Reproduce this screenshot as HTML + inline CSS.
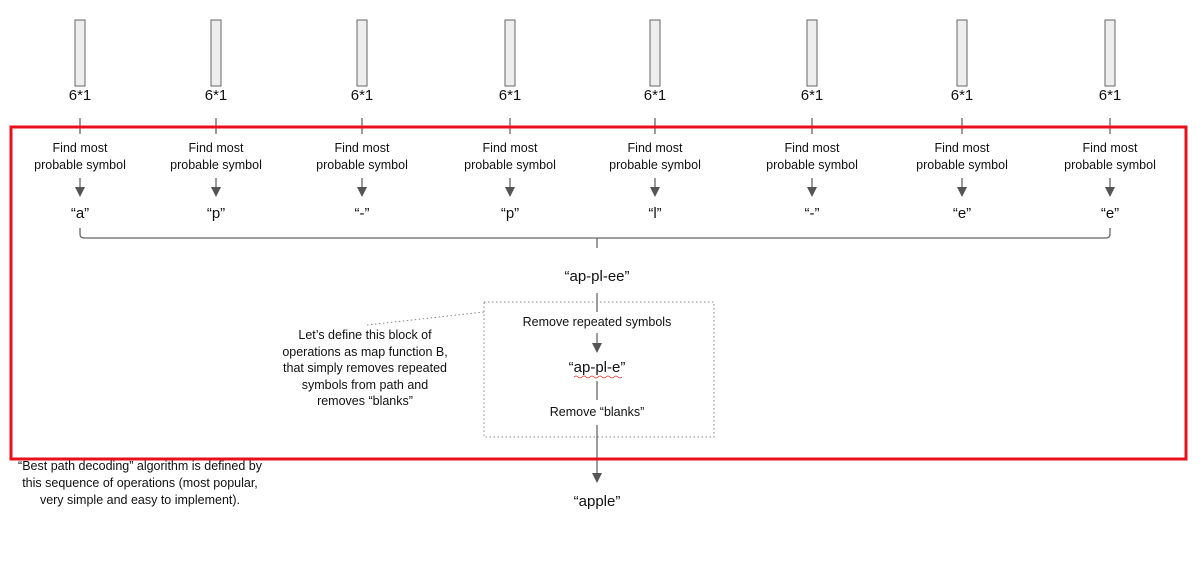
<!DOCTYPE html>
<html><head><style>
body{margin:0;width:1200px;height:579px;background:#fff;position:relative;overflow:hidden;font-family:"Liberation Sans",Arial,sans-serif;color:#111}
.t{position:absolute;transform:translateX(-50%);text-align:center;white-space:nowrap}
.s{font-size:12.5px;line-height:17px}
.m{font-size:15px}
</style></head><body>
<svg width="1200" height="579" style="position:absolute;left:0;top:0">
<g stroke="#666" fill="#eee" stroke-width="1">
<rect x="75" y="20" width="10" height="66"/><rect x="211" y="20" width="10" height="66"/><rect x="357" y="20" width="10" height="66"/><rect x="505" y="20" width="10" height="66"/><rect x="650" y="20" width="10" height="66"/><rect x="807" y="20" width="10" height="66"/><rect x="957" y="20" width="10" height="66"/><rect x="1105" y="20" width="10" height="66"/>
</g>
<g stroke="#666" stroke-width="1.3" fill="none">
<path d="M80,118V134M216,118V134M362,118V134M510,118V134M655,118V134M812,118V134M962,118V134M1110,118V134"/>
<path d="M80,178V188M216,178V188M362,178V188M510,178V188M655,178V188M812,178V188M962,178V188M1110,178V188"/>
<path d="M80,228V234Q80,238 84,238H1106Q1110,238 1110,234V228M597,238V248"/>
<path d="M597,293V312"/>
<path d="M597,333V344"/>
<path d="M597,381V400"/>
<path d="M597,425V474"/>
</g>
<g fill="#555">
<path d="M75,187h10l-5,10z"/><path d="M211,187h10l-5,10z"/><path d="M357,187h10l-5,10z"/><path d="M505,187h10l-5,10z"/><path d="M650,187h10l-5,10z"/><path d="M807,187h10l-5,10z"/><path d="M957,187h10l-5,10z"/><path d="M1105,187h10l-5,10z"/>
<path d="M592,343h10l-5,10z"/><path d="M592,473h10l-5,10z"/>
</g>
<rect x="484" y="302" width="230" height="135" fill="none" stroke="#888" stroke-dasharray="1.5,2.5"/>
<path d="M367,325L484,312" stroke="#888" stroke-dasharray="1.5,2.5"/>
<rect x="11" y="127" width="1175" height="332" fill="none" stroke="#e8101a" stroke-width="3"/>
<path d="M574,377q2,-2 4,0t4,0t4,0t4,0t4,0t4,0t4,0t4,0t4,0t4,0t4,0t4,0" stroke="#d33" fill="none" stroke-width="0.8"/>
</svg>
<div class="t m" style="left:80px;top:87px">6*1</div><div class="t m" style="left:216px;top:87px">6*1</div><div class="t m" style="left:362px;top:87px">6*1</div><div class="t m" style="left:510px;top:87px">6*1</div><div class="t m" style="left:655px;top:87px">6*1</div><div class="t m" style="left:812px;top:87px">6*1</div><div class="t m" style="left:962px;top:87px">6*1</div><div class="t m" style="left:1110px;top:87px">6*1</div>
<div class="t s" style="left:80px;top:140px">Find most<br>probable symbol</div><div class="t s" style="left:216px;top:140px">Find most<br>probable symbol</div><div class="t s" style="left:362px;top:140px">Find most<br>probable symbol</div><div class="t s" style="left:510px;top:140px">Find most<br>probable symbol</div><div class="t s" style="left:655px;top:140px">Find most<br>probable symbol</div><div class="t s" style="left:812px;top:140px">Find most<br>probable symbol</div><div class="t s" style="left:962px;top:140px">Find most<br>probable symbol</div><div class="t s" style="left:1110px;top:140px">Find most<br>probable symbol</div>
<div class="t m" style="left:80px;top:205px">“a”</div><div class="t m" style="left:216px;top:205px">“p”</div><div class="t m" style="left:362px;top:205px">“-”</div><div class="t m" style="left:510px;top:205px">“p”</div><div class="t m" style="left:655px;top:205px">“l”</div><div class="t m" style="left:812px;top:205px">“-”</div><div class="t m" style="left:962px;top:205px">“e”</div><div class="t m" style="left:1110px;top:205px">“e”</div>
<div class="t m" style="left:597px;top:268px">“ap-pl-ee”</div>
<div class="t s" style="left:597px;top:314px">Remove repeated symbols</div>
<div class="t m" style="left:597px;top:359px">“ap-pl-e”</div>
<div class="t s" style="left:597px;top:404px">Remove “blanks”</div>
<div class="t m" style="left:597px;top:493px">“apple”</div>
<div class="t s" style="left:365px;top:327px;line-height:16.5px">Let’s define this block of<br>operations as map function B,<br>that simply removes repeated<br>symbols from path and<br>removes “blanks”</div>
<div class="t s" style="left:140px;top:458px">“Best path decoding” algorithm is defined by<br>this sequence of operations (most popular,<br>very simple and easy to implement).</div>
</body></html>
